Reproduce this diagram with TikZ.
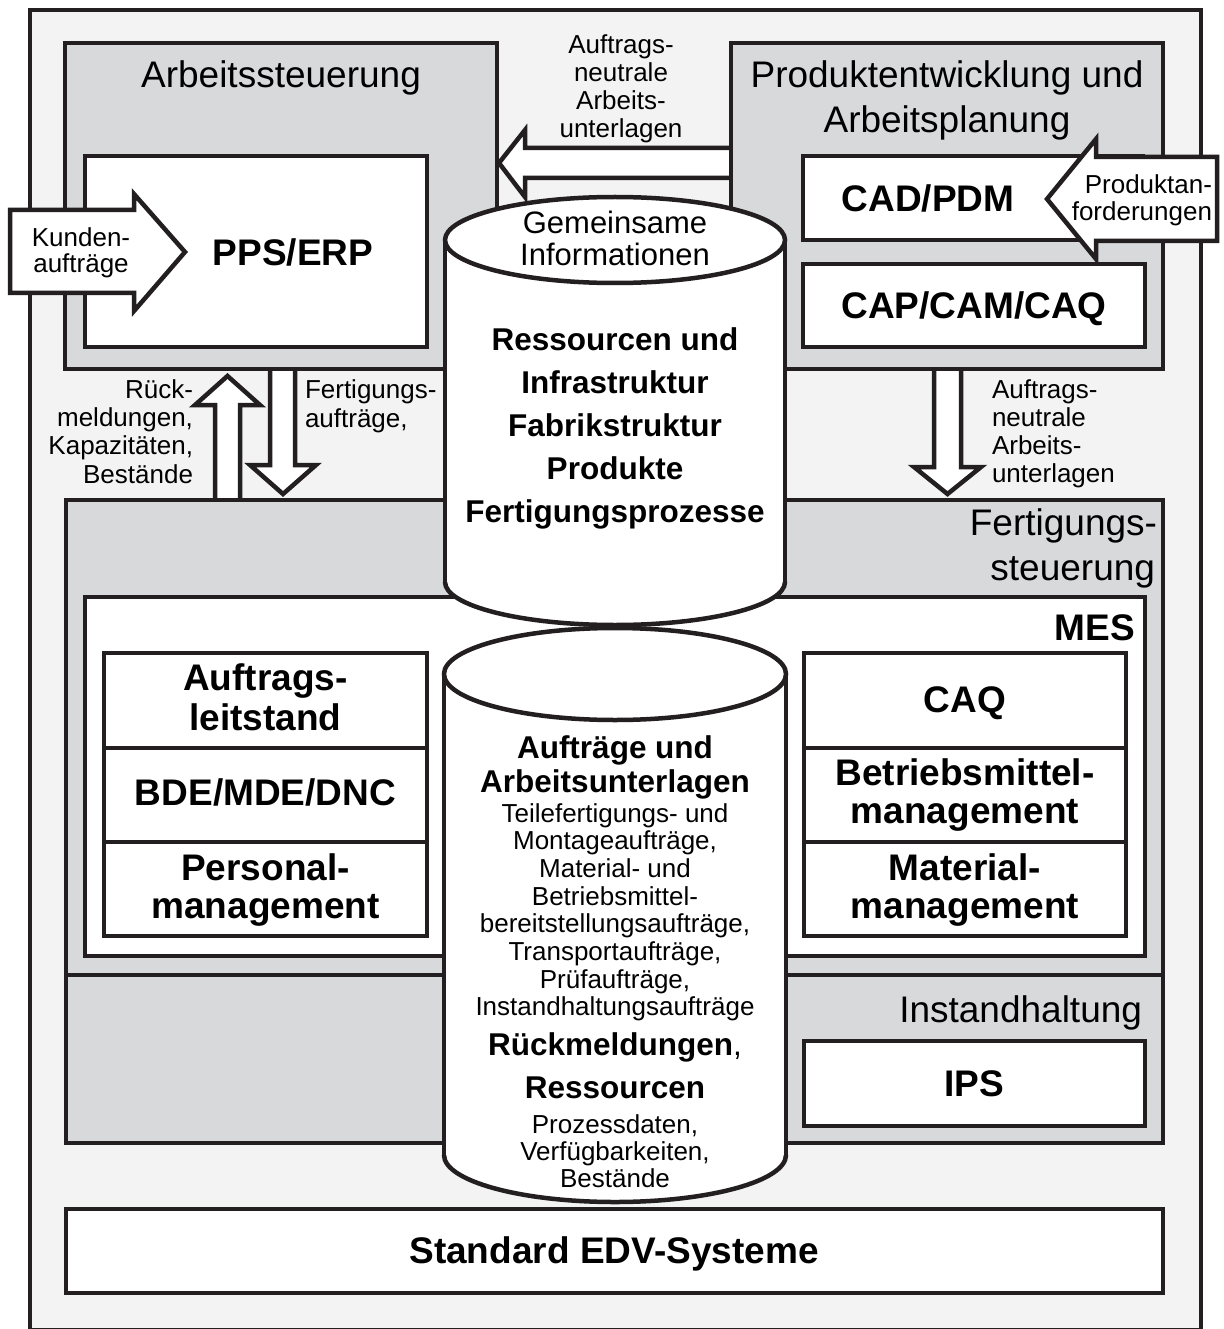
\documentclass[tikz,border=0pt]{standalone}
\usepackage{fontspec}
\setmainfont{Liberation Sans}
\usetikzlibrary{fit}

\definecolor{ink}{HTML}{231F20}
\definecolor{panel}{HTML}{D8D9DB}
\definecolor{paper}{HTML}{F2F3F2}

\tikzset{
  frame/.style={draw=ink, line width=4pt, inner sep=0pt, outer sep=0pt},
  graybox/.style={frame, fill=panel},
  whitebox/.style={frame, fill=white},
  blk/.style={draw=ink, line width=4.5pt, line join=miter, fill=white},
  blkline/.style={draw=ink, line width=4.5pt, line join=miter},
  cylline/.style={draw=ink, line width=4.5pt},
  txt/.style={inner sep=0pt, outer sep=0pt},
  small/.style={txt, font=\fontsize{26}{28}\selectfont},
  head/.style={txt, font=\fontsize{37}{40}\selectfont},
  headb/.style={txt, font=\fontsize{37}{40}\selectfont\bfseries},
  cylb/.style={txt, font=\fontsize{31.5}{34}\selectfont\bfseries},
  cylr/.style={txt, font=\fontsize{31}{34}\selectfont},
}

% white block arrow whose tail end stays open (it runs into a box)
\newcommand\openarrow[1]{\fill[white] #1 -- cycle; \draw[blkline] #1;}

\begin{document}
\begin{tikzpicture}[x=1pt,y=-1pt]
\useasboundingbox (0,0) rectangle (1223,1329);
\fill[white] (0,0) rectangle (1223,1329);
\node[frame, fill=paper, fit={(30,10)(1201,1330)}] (outer) {};

% flows between the areas
\openarrow{(742,148) -- (525,148) -- (525,130) -- (499,163) -- (525,197) -- (525,178) -- (742,178)}
\openarrow{(215,512) -- (215,405) -- (195,405) -- (227.5,376) -- (260,405) -- (240,405) -- (240,512)}
\openarrow{(270,358) -- (270,465) -- (250,465) -- (283,494) -- (316,465) -- (295,465) -- (295,358)}
\openarrow{(934,358) -- (934,467) -- (914,467) -- (947.5,494) -- (981,467) -- (961,467) -- (961,358)}

% areas and systems
\node[graybox,  fit={(65,43)(497,369)}]    (arbst) {};
\node[whitebox, fit={(85,156)(427,347)}]   (pps) {};
\node[graybox,  fit={(731,43)(1163,369)}]  (prod) {};
\node[whitebox, fit={(803,156)(1143,240)}] (cad) {};
\node[whitebox, fit={(803,264)(1145,347)}] (cap) {};
\node[graybox,  fit={(66,500)(1163,975)}]  (fert) {};
\node[whitebox, fit={(85,597)(1145,956)}]  (mes) {};
\node[whitebox, fit={(104,653)(427,748)}]  (als) {};
\node[whitebox, fit={(104,748)(427,842)}]  (bde) {};
\node[whitebox, fit={(104,842)(427,936)}]  (pers) {};
\node[whitebox, fit={(804,653)(1126,748)}] (caq) {};
\node[whitebox, fit={(804,748)(1126,842)}] (bmm) {};
\node[whitebox, fit={(804,842)(1126,936)}] (mat) {};
\node[graybox,  fit={(66,975)(1163,1143)}] (inst) {};
\node[whitebox, fit={(804,1041)(1145,1126)}] (ips) {};
\node[whitebox, fit={(66,1209)(1163,1293)}] (edv) {};

% inputs from outside
\draw[blk] (10,210) -- (134,210) -- (134,194) -- (185,252) -- (134,311) -- (134,293) -- (10,293) -- cycle;
\draw[blk] (1217,157) -- (1096,157) -- (1096,139) -- (1047,199) -- (1096,259) -- (1096,241) -- (1217,241) -- cycle;

% shared data store (upper cylinder)
\fill[white] (445,240) rectangle (785,582);
\fill[white] (615,240) ellipse (170 and 43);
\fill[white] (615,582) ellipse (170 and 43);
\begin{scope}
  \clip (420,582) rectangle (810,640);
  \draw[cylline] (615,582) ellipse (170 and 43);
\end{scope}
\draw[cylline] (445,240) -- (445,582) (785,240) -- (785,582);
\draw[cylline] (615,240) ellipse (170 and 43);

% order data store (lower cylinder)
\fill[white] (444,674) rectangle (786,1155);
\fill[white] (615,674) ellipse (171 and 46);
\fill[white] (615,1155) ellipse (171 and 47);
\begin{scope}
  \clip (420,1155) rectangle (810,1220);
  \draw[cylline] (615,1155) ellipse (171 and 47);
\end{scope}
\draw[cylline] (444,674) -- (444,1155) (786,674) -- (786,1155);
\draw[cylline] (615,674) ellipse (171 and 46);

% area titles
\node[head, anchor=base] (t-arbst) at (281,88) {Arbeitssteuerung};
\node[head, anchor=base] (t-prod1) at (947,88) {Produktentwicklung und};
\node[head, anchor=base] (t-prod2) at (947,133) {Arbeitsplanung};
\node[head, anchor=base east] (t-fert1) at (1157,535) {Fertigungs-};
\node[head, anchor=base east] (t-fert2) at (1155,580) {steuerung};
\node[head, anchor=base east] (t-inst) at (1142,1022) {Instandhaltung};

% system names
\node[headb, anchor=base] (l-pps) at (293,266) {PPS/ERP};
\node[headb, anchor=base] (l-cad) at (928,212) {CAD/PDM};
\node[headb, anchor=base] (l-cap) at (974,318) {CAP/CAM/CAQ};
\node[headb, anchor=base east] (l-mes) at (1135,640) {MES};
\node[headb, anchor=base] (l-als1) at (265.5,690) {Auftrags-};
\node[headb, anchor=base] (l-als2) at (265.5,730) {leitstand};
\node[headb, anchor=base] (l-bde) at (265.5,805) {BDE/MDE/DNC};
\node[headb, anchor=base] (l-pers1) at (265.5,880) {Personal-};
\node[headb, anchor=base] (l-pers2) at (265.5,918) {management};
\node[headb, anchor=base] (l-caq) at (965,712) {CAQ};
\node[headb, anchor=base] (l-bmm1) at (965,785) {Betriebsmittel-};
\node[headb, anchor=base] (l-bmm2) at (965,823) {management};
\node[headb, anchor=base] (l-mat1) at (965,880) {Material-};
\node[headb, anchor=base] (l-mat2) at (965,918) {management};
\node[headb, anchor=base] (l-ips) at (974.5,1096) {IPS};
\node[headb, anchor=base] (l-edv) at (614,1263) {Standard EDV-Systeme};

% arrow labels
\foreach \t [count=\i] in {Auftrags-, neutrale, Arbeits-, unterlagen}
  \node[small, anchor=base] (a-top-\i) at (621,{54+27.7*(\i-1)}) {\t};
\foreach \t [count=\i] in {Auftrags-, neutrale, Arbeits-, unterlagen}
  \node[small, anchor=base west] (a-right-\i) at (992,{398+28*(\i-1)}) {\t};
\foreach \t [count=\i] in {Rück-, {meldungen,}, {Kapazitäten,}, Bestände}
  \node[small, anchor=base east] (a-rueck-\i) at (193,{398+28.4*(\i-1)}) {\t};
\node[small, anchor=base west] (a-fa1) at (305,398) {Fertigungs-};
\node[small, anchor=base west] (a-fa2) at (305,427) {aufträge,};
\node[small, anchor=base] (a-ku1) at (81,247) {Kunden-};
\node[small, anchor=base] (a-ku2) at (81,273) {aufträge};
\node[small, anchor=base east] (a-pa1) at (1212,194) {Produktan-};
\node[small, anchor=base east] (a-pa2) at (1212,221) {forderungen};

% contents of the upper cylinder
\node[cylr, anchor=base] (c1-a) at (615,234) {Gemeinsame};
\node[cylr, anchor=base] (c1-b) at (615,266) {Informationen};
\foreach \t [count=\i] in {Ressourcen und, Infrastruktur, Fabrikstruktur, Produkte, Fertigungsprozesse}
  \node[cylb, anchor=base] (c1-\i) at (615,{350+43*(\i-1)}) {\t};

% contents of the lower cylinder
\node[cylb, anchor=base] (c2-h1) at (615,758) {Aufträge und};
\node[cylb, anchor=base] (c2-h2) at (615,792) {Arbeitsunterlagen};
\foreach \t [count=\i] in {Teilefertigungs- und, {Montageaufträge,}, Material- und, Betriebsmittel-,
    {bereitstellungsaufträge,}, {Transportaufträge,}, {Prüfaufträge,}, Instandhaltungsaufträge}
  \node[small, anchor=base] (c2-o\i) at (615,{822+27.7*(\i-1)}) {\t};
\node[cylb, anchor=base] (c2-h3) at (615,1055) {Rückmeldungen\mdseries,};
\node[cylb, anchor=base] (c2-h4) at (615,1098) {Ressourcen};
\foreach \t [count=\i] in {{Prozessdaten,}, {Verfügbarkeiten,}, Bestände}
  \node[small, anchor=base] (c2-r\i) at (615,{1133+27*(\i-1)}) {\t};
\end{tikzpicture}
\end{document}
